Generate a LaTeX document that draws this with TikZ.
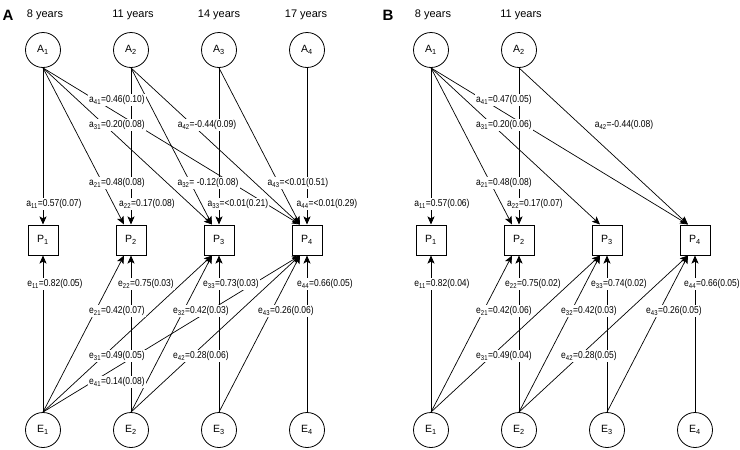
\documentclass[tikz,border=0pt]{standalone}
\usepackage{fontspec}
\setmainfont{Liberation Sans}
\newfontfamily\narrowfont{Liberation Sans}[FakeStretch=0.85]
\usetikzlibrary{arrows.meta,calc}

\tikzset{
	latent/.style={circle, draw, line width=0.8pt, minimum size=35pt, inner sep=0pt, font=\fontsize{10.5}{12}\selectfont},
	observed/.style={rectangle, draw, line width=1pt, minimum size=30pt, inner sep=0pt, font=\fontsize{10.5}{12}\selectfont},
	link/.style={line width=0.7pt, ->},
	coef/.style={fill=white, inner sep=1.2pt, font=\narrowfont\fontsize{10}{12}\selectfont},
	year/.style={font=\fontsize{11}{13}\selectfont},
	panel/.style={font=\bfseries\fontsize{15}{17}\selectfont},
	>={Stealth[length=8pt,width=7pt,inset=1.8pt]}
}

\begin{document}
\begin{tikzpicture}[x=1pt, y=-1pt]
	\useasboundingbox (0,0) rectangle (740,450);
	
	% panel A
	\node[panel] (pa) at (8,15) {A};
	\node[year] (ya1) at (45,15) {8 years};
	\node[year] (ya2) at (133,15) {11 years};
	\node[year] (ya3) at (219,15) {14 years};
	\node[year] (ya4) at (306,15) {17 years};
	
	\foreach \i/\x in {1/43,2/131,3/219,4/307}{
		\node[latent] (A\i) at (\x,50) {A\textsubscript{\i}};
		\node[observed] (P\i) at (\x,240) {P\textsubscript{\i}};
		\node[latent] (E\i) at (\x,430) {E\textsubscript{\i}};
		\coordinate (P\i-top) at ($(P\i.north)+(-7,0)$);
		\coordinate (P\i-bot) at ($(P\i.south)+(-7,0)$);
		\draw[link] (A\i.south) -- (P\i.north);
		\draw[link] (E\i.north) -- (P\i.south);
	}
	\foreach \s/\t in {1/2,1/3,1/4,2/3,2/4,3/4}{
		\draw[link] (A\s.south) -- (P\t-top);
		\draw[link] (E\s.north) -- (P\t-bot);
	}
	
	\node[coef] (a41) at (117,100) {a\textsubscript{41}=0.46(0.10)};
	\node[coef] (a31) at (117,125) {a\textsubscript{31}=0.20(0.08)};
	\node[coef] (a42) at (207,125) {a\textsubscript{42}=-0.44(0.09)};
	\node[coef] (a21) at (117,183) {a\textsubscript{21}=0.48(0.08)};
	\node[coef] (a32) at (208,183) {a\textsubscript{32}= -0.12(0.08)};
	\node[coef] (a43) at (298,183) {a\textsubscript{43}=<0.01(0.51)};
	\node[coef] (a11) at (54,204) {a\textsubscript{11}=0.57(0.07)};
	\node[coef] (a22) at (147,204) {a\textsubscript{22}=0.17(0.08)};
	\node[coef] (a33) at (238,204) {a\textsubscript{33}=<0.01(0.21)};
	\node[coef] (a44) at (327,204) {a\textsubscript{44}=<0.01(0.29)};
	\node[coef] (e11) at (55,284) {e\textsubscript{11}=0.82(0.05)};
	\node[coef] (e22) at (146,284) {e\textsubscript{22}=0.75(0.03)};
	\node[coef] (e33) at (231,284) {e\textsubscript{33}=0.73(0.03)};
	\node[coef] (e44) at (325,284) {e\textsubscript{44}=0.66(0.05)};
	\node[coef] (e21) at (117,311) {e\textsubscript{21}=0.42(0.07)};
	\node[coef] (e32) at (201,311) {e\textsubscript{32}=0.42(0.03)};
	\node[coef] (e43) at (286,311) {e\textsubscript{43}=0.26(0.06)};
	\node[coef] (e31) at (117,356) {e\textsubscript{31}=0.49(0.05)};
	\node[coef] (e42) at (201,356) {e\textsubscript{42}=0.28(0.06)};
	\node[coef] (e41) at (117,382) {e\textsubscript{41}=0.14(0.08)};
	
	% panel B
	\node[panel] (pb) at (388,15) {B};
	\node[year] (yb1) at (433,15) {8 years};
	\node[year] (yb2) at (521,15) {11 years};
	
	\foreach \i/\x in {1/431,2/519}{
		\node[latent] (A\i b) at (\x,50) {A\textsubscript{\i}};
	}
	\foreach \i/\x in {1/431,2/519,3/607,4/695}{
		\node[observed] (P\i b) at (\x,240) {P\textsubscript{\i}};
		\node[latent] (E\i b) at (\x,430) {E\textsubscript{\i}};
		\coordinate (P\i b-top) at ($(P\i b.north)+(-7,0)$);
		\coordinate (P\i b-bot) at ($(P\i b.south)+(-7,0)$);
		\draw[link] (E\i b.north) -- (P\i b.south);
	}
	\draw[link] (A1b.south) -- (P1b.north);
	\draw[link] (A2b.south) -- (P2b.north);
	\foreach \s/\t in {1/2,1/3,1/4,2/4}
		\draw[link] (A\s b.south) -- (P\t b-top);
	\foreach \s/\t in {1/2,1/3,2/3,2/4,3/4}
		\draw[link] (E\s b.north) -- (P\t b-bot);
	
	\node[coef] (a41b) at (504,100) {a\textsubscript{41}=0.47(0.05)};
	\node[coef] (a31b) at (504,125) {a\textsubscript{31}=0.20(0.06)};
	\node[coef] (a42b) at (624,125) {a\textsubscript{42}=-0.44(0.08)};
	\node[coef] (a21b) at (504,183) {a\textsubscript{21}=0.48(0.08)};
	\node[coef] (a11b) at (442,204) {a\textsubscript{11}=0.57(0.06)};
	\node[coef] (a22b) at (535,204) {a\textsubscript{22}=0.17(0.07)};
	\node[coef] (e11b) at (442,284) {e\textsubscript{11}=0.82(0.04)};
	\node[coef] (e22b) at (533,284) {e\textsubscript{22}=0.75(0.02)};
	\node[coef] (e33b) at (619,284) {e\textsubscript{33}=0.74(0.02)};
	\node[coef] (e44b) at (712,284) {e\textsubscript{44}=0.66(0.05)};
	\node[coef] (e21b) at (504,311) {e\textsubscript{21}=0.42(0.06)};
	\node[coef] (e32b) at (589,311) {e\textsubscript{32}=0.42(0.03)};
	\node[coef] (e43b) at (674,311) {e\textsubscript{43}=0.26(0.05)};
	\node[coef] (e31b) at (504,356) {e\textsubscript{31}=0.49(0.04)};
	\node[coef] (e42b) at (589,356) {e\textsubscript{42}=0.28(0.05)};
	
\end{tikzpicture}
\end{document}
